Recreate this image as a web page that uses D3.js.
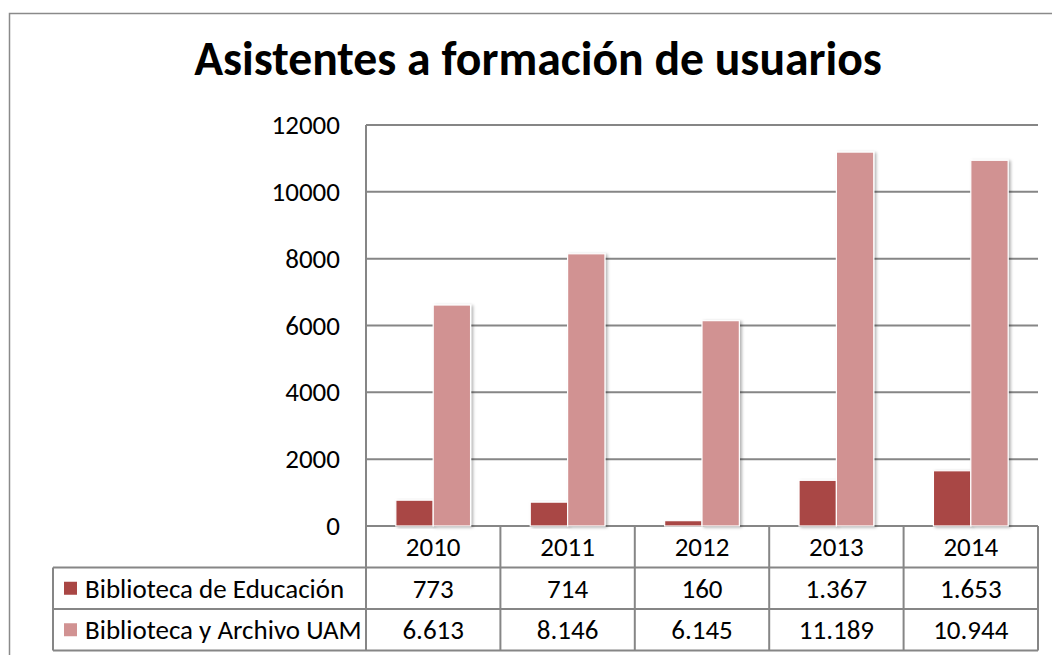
<!DOCTYPE html>
<html><head><meta charset="utf-8">
<script src="https://cdn.jsdelivr.net/npm/d3@7"></script>
<style>html,body{margin:0;padding:0;background:#fff;}svg{display:block;}</style>
</head><body>
<svg id="c" width="1052" height="655"></svg>
<script>
const title = "Asistentes a formación de usuarios";
const categories = ["2010","2011","2012","2013","2014"];
const seriesNames = ["Biblioteca de Educación","Biblioteca y Archivo UAM"];
const educacion = [773, 714, 160, 1367, 1653];
const uam = [6613, 8146, 6145, 11189, 10944];
const yTicks = [0, 2000, 4000, 6000, 8000, 10000, 12000];
const colors = ["#A94644", "#D19292"];

(function () {
const series = [educacion, uam];
const FONT = "Carlito, Lato, 'Open Sans', sans-serif";
const grid = "#868686";
const svg = d3.select("#c");
const loc = d3.formatLocale({decimal: ",", thousands: ".", grouping: [3], currency: ["", "€"]});
const fmt = loc.format(",d");

const defs = svg.append("defs");
const f = defs.append("filter").attr("id","sh").attr("x","-20%").attr("y","-5%").attr("width","150%").attr("height","115%");
f.append("feDropShadow").attr("dx",2).attr("dy",1).attr("stdDeviation",1.5).attr("flood-color","#000").attr("flood-opacity",0.3);

function fitSize(text, weight, target) {
  const t = svg.append("text").attr("font-family", FONT).attr("font-weight", weight).attr("font-size", 100).text(text);
  const w = t.node().getComputedTextLength();
  t.remove();
  return 100 * target / w;
}

svg.append("path").attr("d", "M9.5,655 V13.5 H1052").attr("fill","none").attr("stroke","#8a8a8a").attr("stroke-width",1.5);

const ts = fitSize(title, "bold", 688);
svg.append("text").attr("x", 538).attr("y", 75).attr("text-anchor","middle")
  .attr("font-family", FONT).attr("font-weight","bold").attr("font-size", ts).attr("fill","#000").text(title);

const bodySize = 27;

const pLeft = 366, pRight = 1038, pTop = 125, pBottom = 526;
const x = d3.scaleBand().domain(categories).range([pLeft, pRight]);
const y = d3.scaleLinear().domain([0, 12000]).range([pBottom, pTop]);
const xs = d3.scaleBand().domain(d3.range(series.length)).range([0.222 * x.bandwidth(), 0.778 * x.bandwidth()]);

svg.append("g").selectAll("line").data(yTicks).join("line")
  .attr("x1", pLeft).attr("x2", pRight).attr("y1", d => y(d)).attr("y2", d => y(d))
  .attr("stroke", grid).attr("stroke-width", 2);

const yAxis = d3.axisLeft(y).tickValues(yTicks).tickSize(0).tickPadding(26).tickFormat(d3.format("d"));
const ya = svg.append("g").attr("transform", `translate(${pLeft},0)`).call(yAxis);
ya.select(".domain").remove();
ya.selectAll("text").attr("font-family", FONT).attr("font-size", bodySize).attr("fill","#000");

series.forEach((s, si) => {
  svg.append("g").selectAll("rect").data(s).join("rect")
    .attr("x", (d, i) => x(categories[i]) + xs(si))
    .attr("y", d => y(d))
    .attr("width", xs.bandwidth())
    .attr("height", d => pBottom - y(d))
    .attr("fill", colors[si]).attr("stroke", "#fff").attr("stroke-width", 1.2)
    .attr("filter", "url(#sh)");
});

const rowH = 41.5;
const legendLeft = 53;
const tg = svg.append("g");
tg.append("line").attr("x1", pLeft).attr("x2", pLeft).attr("y1", pTop).attr("y2", pBottom + rowH * 3)
  .attr("stroke", grid).attr("stroke-width", 2);
categories.forEach((c) => {
  const xx = x(c) + x.bandwidth();
  tg.append("line").attr("x1", xx).attr("x2", xx).attr("y1", pBottom).attr("y2", pBottom + rowH * 3)
    .attr("stroke", grid).attr("stroke-width", 2);
});
tg.append("line").attr("x1", legendLeft).attr("x2", legendLeft).attr("y1", pBottom + rowH).attr("y2", pBottom + rowH * 3)
  .attr("stroke", grid).attr("stroke-width", 2);
[1, 2, 3].forEach(r => {
  tg.append("line").attr("x1", legendLeft).attr("x2", pRight).attr("y1", pBottom + rowH * r).attr("y2", pBottom + rowH * r)
    .attr("stroke", grid).attr("stroke-width", 2);
});
tg.selectAll("text.h").data(categories).join("text").attr("class","h")
  .attr("x", d => x(d) + x.bandwidth() / 2).attr("y", pBottom + rowH / 2).attr("dy", "0.35em")
  .attr("text-anchor","middle").attr("font-family", FONT).attr("font-size", bodySize).attr("fill","#000").text(d => d);
series.forEach((s, si) => {
  const cy = pBottom + rowH * (si + 1.5);
  tg.append("rect").attr("x", 64).attr("y", cy - 6.5).attr("width", 13).attr("height", 13).attr("fill", colors[si]);
  tg.append("text").attr("x", 85).attr("y", cy).attr("dy","0.35em").attr("font-family", FONT)
    .attr("font-size", bodySize).attr("fill","#000").text(seriesNames[si]);
  tg.selectAll("text.v" + si).data(s).join("text").attr("class","v" + si)
    .attr("x", (d, i) => x(categories[i]) + x.bandwidth() / 2).attr("y", cy).attr("dy","0.35em")
    .attr("text-anchor","middle").attr("font-family", FONT).attr("font-size", bodySize).attr("fill","#000")
    .text(d => fmt(d));
});
})();
</script>
</body></html>
